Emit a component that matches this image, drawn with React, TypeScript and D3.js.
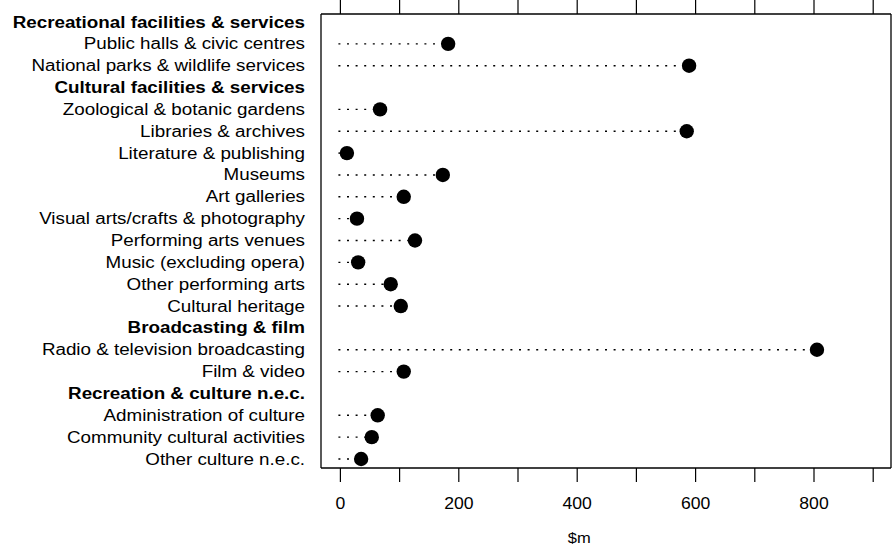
import React from "react";
import * as d3 from "d3";

const categories: string[] = [
  "Recreational facilities & services",
  "Public halls & civic centres",
  "National parks & wildlife services",
  "Cultural facilities & services",
  "Zoological & botanic gardens",
  "Libraries & archives",
  "Literature & publishing",
  "Museums",
  "Art galleries",
  "Visual arts/crafts & photography",
  "Performing arts venues",
  "Music (excluding opera)",
  "Other performing arts",
  "Cultural heritage",
  "Broadcasting & film",
  "Radio & television broadcasting",
  "Film & video",
  "Recreation & culture n.e.c.",
  "Administration of culture",
  "Community cultural activities",
  "Other culture n.e.c.",
];
const isHeading: boolean[] = [
  true, false, false, true, false, false, false, false, false, false, false,
  false, false, false, true, false, false, true, false, false, false,
];
// null = heading row (no value)
const values: (number | null)[] = [
  null, 182, 589, null, 67, 585, 11, 173, 107, 28, 126, 30, 85, 102, null, 805, 107,
  null, 63, 53, 35,
];
const tickValues: number[] = [0, 100, 200, 300, 400, 500, 600, 700, 800, 900];
const tickLabels: number[] = [0, 200, 400, 600, 800];
const axisTitle = "$m";

const W = 892;
const H = 546;
const plotLeft = 321;
const plotRight = 891;
const plotTop = 14;
const plotBottom = 468;

export default function App() {
  const x = d3.scaleLinear().domain([0, 800]).range([340.4, 814]);
  const y = d3
    .scalePoint<number>()
    .domain(categories.map((_, i) => i))
    .range([22, 459]);
  const font = "'Liberation Sans', Arial, Helvetica, sans-serif";
  return (
    <svg
      width={W}
      height={H}
      style={{ position: "absolute", left: 0, top: 0, background: "#fff" }}
      fontFamily={font}
    >
      <rect x={0} y={0} width={W} height={H} fill="#fff" />
      {/* frame */}
      <line x1={plotLeft} x2={plotLeft} y1={plotTop} y2={plotBottom} stroke="#000" strokeWidth={1.3} />
      <line x1={plotLeft} x2={plotRight} y1={plotTop} y2={plotTop} stroke="#000" strokeWidth={1.5} />
      <line x1={plotLeft} x2={plotRight} y1={plotBottom} y2={plotBottom} stroke="#000" strokeWidth={1.3} />
      <line x1={plotRight} x2={plotRight} y1={plotTop} y2={plotBottom} stroke="#000" strokeWidth={1.3} />
      {tickValues.map((t) => (
        <g key={t}>
          <line x1={x(t)} x2={x(t)} y1={0} y2={plotTop} stroke="#000" strokeWidth={1.2} />
          <line x1={x(t)} x2={x(t)} y1={plotBottom} y2={plotBottom + 14} stroke="#000" strokeWidth={1.2} />
        </g>
      ))}
      {tickLabels.map((t) => (
        <text
          key={t}
          transform={`translate(${x(t)},509) scale(1.1,1)`}
          textAnchor="middle"
          fontSize={16}
          fill="#000"
        >
          {t}
        </text>
      ))}
      <text transform={`translate(${x(400) + 2},543) scale(1.1,1)`} textAnchor="middle" fontSize={15} fill="#000">
        {axisTitle}
      </text>
      {categories.map((c, i) => (
        <text
          key={c}
          transform={`translate(305,${(y(i) as number) + 5.5}) scale(1.175,1)`}
          textAnchor="end"
          fontSize={16}
          fontWeight={isHeading[i] ? "bold" : "normal"}
          fill="#000"
        >
          {c}
        </text>
      ))}
      {values.map((v, i) =>
        v === null ? null : (
          <g key={i}>
            <line
              x1={x(0) - 2}
              x2={x(v)}
              y1={y(i) as number}
              y2={y(i) as number}
              stroke="#000"
              strokeWidth={1.4}
              strokeDasharray="2 6.6"
            />
            <circle cx={x(v)} cy={y(i) as number} r={7.2} fill="#000" />
          </g>
        )
      )}
    </svg>
  );
}
